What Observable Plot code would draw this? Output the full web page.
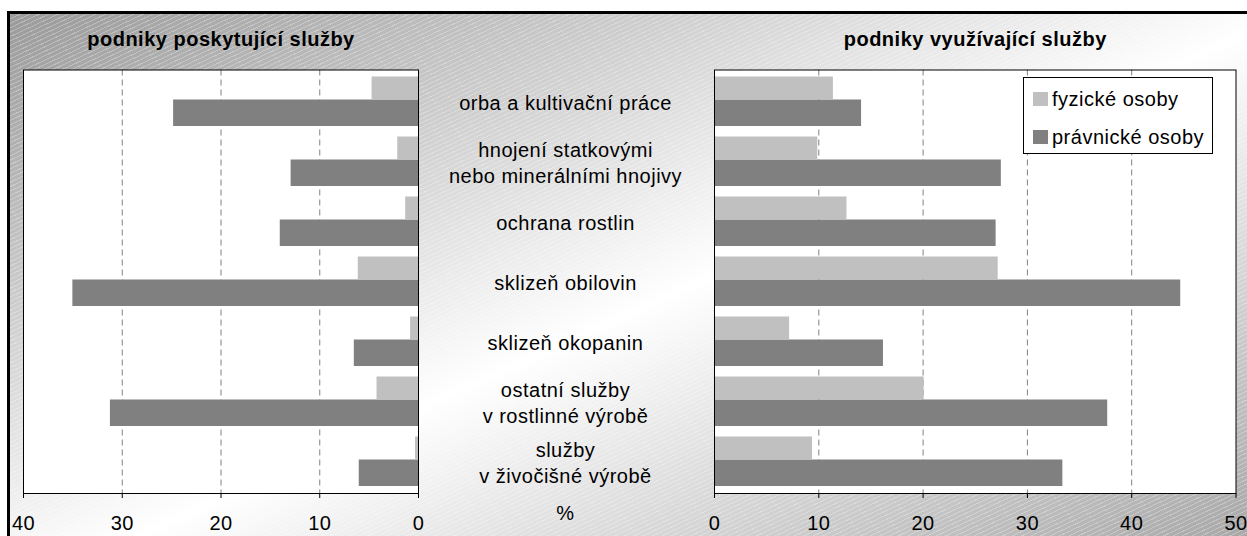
<!DOCTYPE html>
<html>
<head>
<meta charset="utf-8">
<script src="https://cdn.jsdelivr.net/npm/d3@7"></script>
<script src="https://cdn.jsdelivr.net/npm/@observablehq/plot@0.6"></script>
<style>
  html, body { margin: 0; padding: 0; background: #fff; }
  #page { position: relative; width: 1247px; height: 536px; overflow: hidden; font-family: "Liberation Sans", Arial, sans-serif; }
  #frame {
    position: absolute; left: 7px; top: 11px; width: 1280px; height: 580px;
    border: 3px solid #000;
    background:
      repeating-linear-gradient(155deg, rgba(255,255,255,0.28) 0px, rgba(255,255,255,0.28) 1px, rgba(255,255,255,0) 1px, rgba(255,255,255,0) 4px),
      linear-gradient(to bottom right, #9a9a9a 0%, #ffffff 50%, #9a9a9a 100%);
  }
  .chart { position: absolute; left: 0; top: 0; }
  #legend {
    position: absolute; left: 1023px; top: 77px; width: 188px; height: 75px;
    background: #fff; border: 1px solid #000;
    font-size: 20px; letter-spacing: 0.5px; color: #000;
  }
  .item { position: absolute; left: 9px; height: 24px; display: flex; align-items: center; white-space: nowrap; }
  .sw { width: 15px; height: 14px; margin-right: 4px; }
</style>
</head>
<body>
<div id="page">
  <div id="frame"></div>
  <div id="left" class="chart"></div>
  <div id="right" class="chart"></div>
  <div id="legend"></div>
</div>
<script>
// ---- data ----
const categories = [
  "orba a kultivační práce",
  "hnojení statkovými\nnebo minerálními hnojivy",
  "ochrana rostlin",
  "sklizeň obilovin",
  "sklizeň okopanin",
  "ostatní služby\nv rostlinné výrobě",
  "služby\nv živočišné výrobě"
];
const seriesNames = ["fyzické osoby", "právnické osoby"];
const seriesColors = ["#c0c0c0", "#808080"];
// podniky poskytující služby (%)
const providingFyzicke = [4.7, 2.1, 1.3, 6.1, 0.8, 4.2, 0.3];
const providingPravnicke = [24.8, 12.9, 14.0, 35.0, 6.5, 31.2, 6.0];
// podniky využívající služby (%)
const usingFyzicke = [11.4, 9.9, 12.7, 27.2, 7.2, 20.1, 9.4];
const usingPravnicke = [14.1, 27.5, 27.0, 44.7, 16.2, 37.7, 33.4];
const leftTicks = [0, 10, 20, 30, 40];
const rightTicks = [0, 10, 20, 30, 40, 50];
const leftTitle = "podniky poskytující služby";
const rightTitle = "podniky využívající služby";
const unitLabel = "%";

// ---- layout ----
const W = 1247, H = 536;
const plotTop = 69.5, plotBottom = 493;
const leftL = 23, leftR = 418;
const rightL = 714, rightR = 1235.5;
const band = (plotBottom - plotTop) / categories.length;

const rows = (vals) => categories.map((c, i) => ({cat: c, v: vals[i]}));

const commonStyle = {
  background: "transparent",
  fontFamily: "'Liberation Sans', Arial, sans-serif",
  fontSize: "20px",
  letterSpacing: "0.5px",
  color: "#000",
  overflow: "visible"
};

function panel({vals1, vals2, domain, ticks, grid, reverse, mL, mR, title, extra}) {
  return Plot.plot({
    width: W, height: H,
    marginTop: plotTop, marginBottom: H - plotBottom, marginLeft: mL, marginRight: mR,
    style: commonStyle,
    x: {domain, reverse, ticks, tickSize: 5, tickPadding: 17, label: null, tickFormat: d => String(d)},
    y: {domain: categories, padding: 0, axis: null},
    marks: [
      Plot.frame({fill: "#fff", stroke: null}),
      Plot.ruleX(grid, {stroke: "#808080", strokeDasharray: "6,4", strokeWidth: 1}),
      Plot.barX(rows(vals1), {x: "v", y: "cat", fill: seriesColors[0], insetTop: 5.5, insetBottom: band - 28.5}),
      Plot.barX(rows(vals2), {x: "v", y: "cat", fill: seriesColors[1], insetTop: 28.5, insetBottom: 5}),
      Plot.frame({stroke: "#000", strokeWidth: 1}),
      Plot.text([title], {frameAnchor: "top", dy: -30.5, fontWeight: "bold", lineAnchor: "middle", fill: "#000"}),
      ...extra
    ]
  });
}

const left = panel({
  vals1: providingFyzicke, vals2: providingPravnicke,
  domain: [0, 40], ticks: leftTicks, grid: [10, 20, 30], reverse: true,
  mL: leftL, mR: W - leftR, title: leftTitle,
  extra: [
    Plot.text(categories, {y: d => d, text: d => d, frameAnchor: "right", dx: 147, textAnchor: "middle", lineAnchor: "middle", lineHeight: 1.34, fill: "#000"}),
    Plot.text([unitLabel], {frameAnchor: "bottom-right", dx: 147, dy: 20, textAnchor: "middle", lineAnchor: "middle", fill: "#000"})
  ]
});
document.getElementById("left").appendChild(left);

const right = panel({
  vals1: usingFyzicke, vals2: usingPravnicke,
  domain: [0, 50], ticks: rightTicks, grid: [10, 20, 30, 40], reverse: false,
  mL: rightL, mR: W - rightR, title: rightTitle,
  extra: []
});
document.getElementById("right").appendChild(right);

// legend
const legend = document.getElementById("legend");
seriesNames.forEach((name, i) => {
  const it = document.createElement("div");
  it.className = "item";
  it.style.top = (i === 0 ? 9 : 47) + "px";
  const sw = document.createElement("div");
  sw.className = "sw";
  sw.style.background = seriesColors[i];
  it.appendChild(sw);
  it.appendChild(document.createTextNode(name));
  legend.appendChild(it);
});
</script>
</body>
</html>
